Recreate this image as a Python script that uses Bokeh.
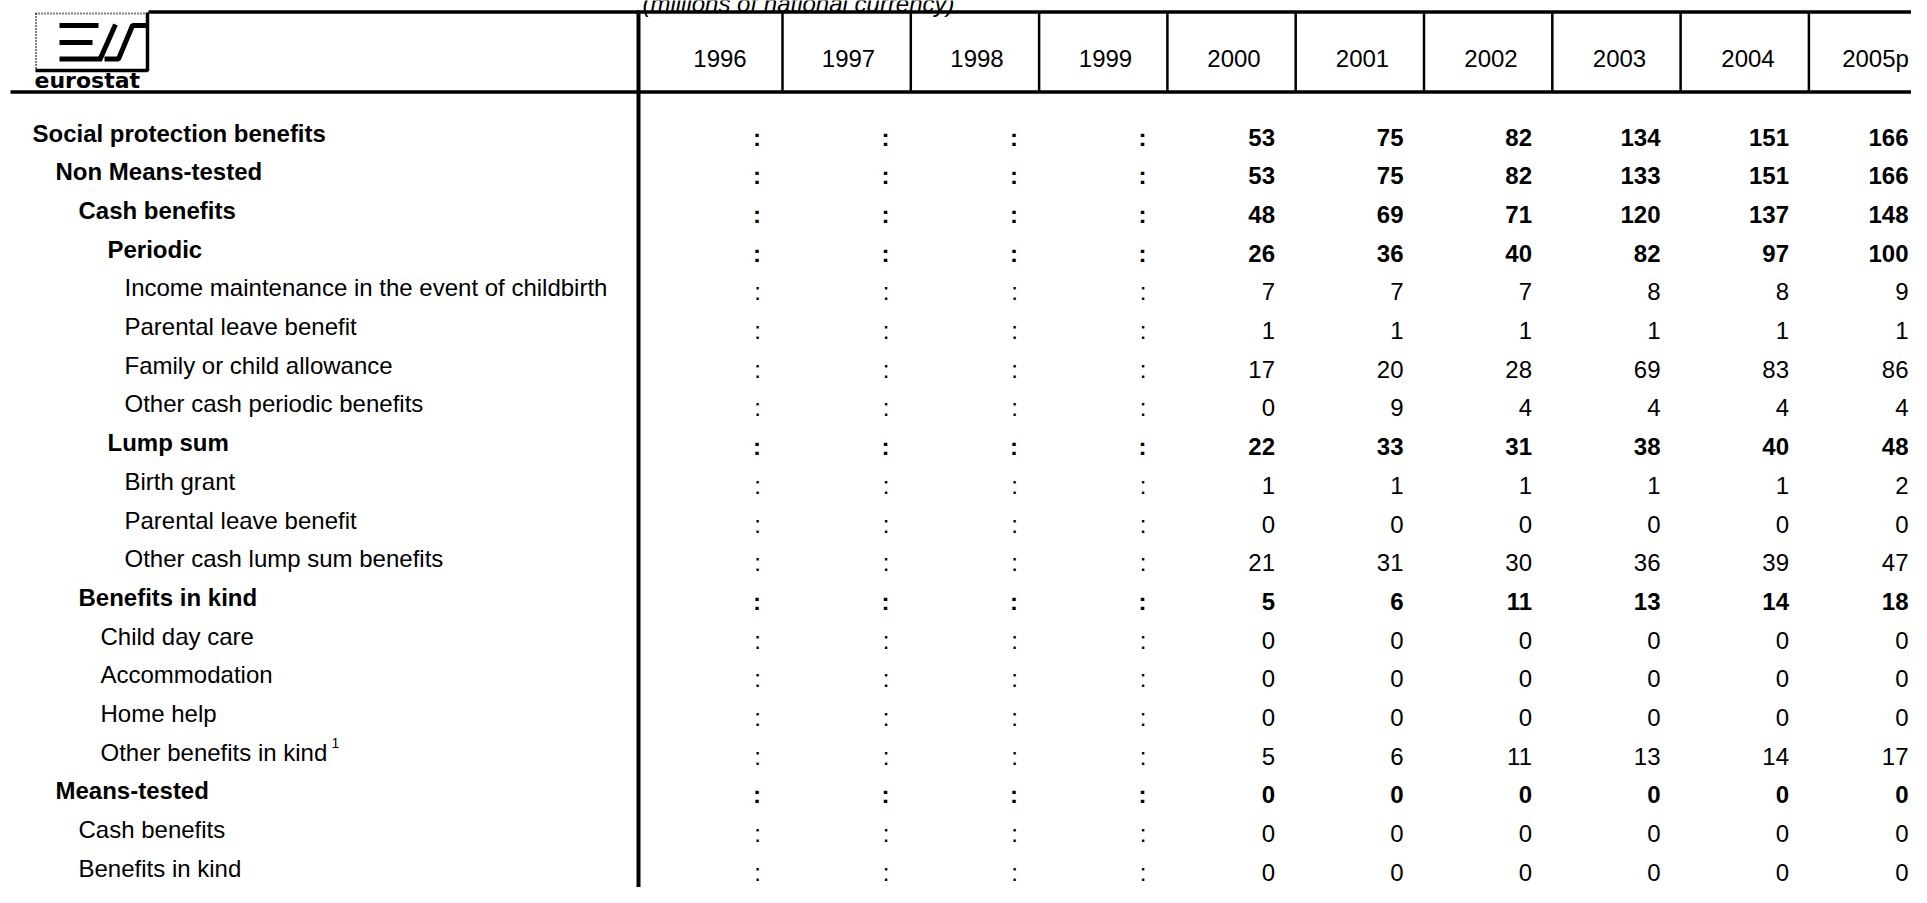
from bokeh.plotting import figure
from bokeh.models import Range1d, ColumnDataSource
from bokeh.core.properties import value
from bokeh.embed import file_html
from bokeh.resources import INLINE

# ---------------- data ----------------
subtitle = "(millions of national currency)"
years = ["1996", "1997", "1998", "1999", "2000", "2001", "2002", "2003", "2004", "2005p"]
labels = [
    "Social protection benefits",
    "Non Means-tested",
    "Cash benefits",
    "Periodic",
    "Income maintenance in the event of childbirth",
    "Parental leave benefit",
    "Family or child allowance",
    "Other cash periodic benefits",
    "Lump sum",
    "Birth grant",
    "Parental leave benefit",
    "Other cash lump sum benefits",
    "Benefits in kind",
    "Child day care",
    "Accommodation",
    "Home help",
    "Other benefits in kind",
    "Means-tested",
    "Cash benefits",
    "Benefits in kind",
]
footnote_mark = "1"
v1996 = [":", ":", ":", ":", ":", ":", ":", ":", ":", ":", ":", ":", ":", ":", ":", ":", ":", ":", ":", ":"]
v1997 = [":", ":", ":", ":", ":", ":", ":", ":", ":", ":", ":", ":", ":", ":", ":", ":", ":", ":", ":", ":"]
v1998 = [":", ":", ":", ":", ":", ":", ":", ":", ":", ":", ":", ":", ":", ":", ":", ":", ":", ":", ":", ":"]
v1999 = [":", ":", ":", ":", ":", ":", ":", ":", ":", ":", ":", ":", ":", ":", ":", ":", ":", ":", ":", ":"]
v2000 = ["53", "53", "48", "26", "7", "1", "17", "0", "22", "1", "0", "21", "5", "0", "0", "0", "5", "0", "0", "0"]
v2001 = ["75", "75", "69", "36", "7", "1", "20", "9", "33", "1", "0", "31", "6", "0", "0", "0", "6", "0", "0", "0"]
v2002 = ["82", "82", "71", "40", "7", "1", "28", "4", "31", "1", "0", "30", "11", "0", "0", "0", "11", "0", "0", "0"]
v2003 = ["134", "133", "120", "82", "8", "1", "69", "4", "38", "1", "0", "36", "13", "0", "0", "0", "13", "0", "0", "0"]
v2004 = ["151", "151", "137", "97", "8", "1", "83", "4", "40", "1", "0", "39", "14", "0", "0", "0", "14", "0", "0", "0"]
v2005p = ["166", "166", "148", "100", "9", "1", "86", "4", "48", "2", "0", "47", "18", "0", "0", "0", "17", "0", "0", "0"]
columns = [v1996, v1997, v1998, v1999, v2000, v2001, v2002, v2003, v2004, v2005p]

# ---------------- layout / style ----------------
indent = [32, 55, 78, 107, 124, 124, 124, 124, 107, 124, 124, 124, 78, 100, 100, 100, 100, 55, 78, 78]
weight = ["bold", "bold", "bold", "bold", "normal", "normal", "normal", "normal", "bold", "normal",
          "normal", "normal", "bold", "normal", "normal", "normal", "normal", "bold", "normal", "normal"]
LAB_Y0, NUM_Y0, ROWH = 132.5, 136.5, 38.7
COLR0, COLW = 760.5, 128.5
LAST_R = 1908.0          # last column pulled in slightly so it stays inside the page
SEP0, SEPW = 782.0, 128.3
HEAD_Y = 57.5
FONT = value("Liberation Sans")
FS = "24px"

W, H = 1911, 887
p = figure(width=W, height=H, x_range=Range1d(0, W), y_range=Range1d(H, 0),
           output_backend="svg", toolbar_location=None, min_border=0)
p.axis.visible = False
p.grid.visible = False
p.outline_line_color = None
p.background_fill_color = "white"
p.border_fill_color = "white"

lab_y = [LAB_Y0 + i * ROWH for i in range(len(labels))]
num_y = [NUM_Y0 + i * ROWH for i in range(len(labels))]
col_r = [COLR0 + j * COLW for j in range(len(years) - 1)] + [LAST_R]

# row labels
p.text(x=indent, y=lab_y, text=labels, text_font=FONT, text_font_size=FS,
       text_font_style=weight, text_align="left", text_baseline="middle", text_color="black")
# footnote superscript
p.text(x=[331], y=[lab_y[16] - 9], text=[footnote_mark], text_font=FONT, text_font_size="14px",
       text_align="left", text_baseline="middle", text_color="black")

# values
xs, ys, ts, ws = [], [], [], []
for j, col in enumerate(columns):
    for i, v in enumerate(col):
        xs.append(col_r[j])
        ys.append(num_y[i])
        ts.append(v)
        ws.append(weight[i])
src = ColumnDataSource(dict(x=xs, y=ys, t=ts, w=ws))
p.text(x="x", y="y", text="t", text_font_style="w", source=src, text_font=FONT,
       text_font_size=FS, text_align="right", text_baseline="middle", text_color="black")

# header
hx = [r - 41 for r in col_r[:-1]] + [LAST_R - 33]
p.text(x=hx, y=[HEAD_Y] * len(years), text=years, text_font=FONT, text_font_size=FS,
       text_align="center", text_baseline="middle", text_color="black")

# subtitle (clipped at the page top in the reference)
p.text(x=[798], y=[3], text=[subtitle], text_font=FONT, text_font_size=FS,
       text_font_style="italic", text_align="center", text_baseline="alphabetic", text_color="black")

# rules
p.segment(x0=[148], y0=[11.5], x1=[1930], y1=[11.5], line_color="black", line_width=3.5)
p.segment(x0=[10], y0=[91.5], x1=[1930], y1=[91.5], line_color="black", line_width=3.5)
p.segment(x0=[638], y0=[10], x1=[638], y1=[900], line_color="black", line_width=4)
sx = [SEP0 + k * SEPW for k in range(len(years) - 1)]
p.segment(x0=sx, y0=[11.5] * len(sx), x1=sx, y1=[91.5] * len(sx), line_color="black", line_width=2.5)

# eurostat logo
p.line(x=[35, 148], y=[13, 13], line_color="black", line_width=2, line_dash="1 2")
p.line(x=[35.5, 35.5], y=[13, 70], line_color="black", line_width=2, line_dash="1 2")
p.line(x=[147, 147, 35], y=[12, 70, 70], line_color="black", line_width=3.5)
p.multi_line(xs=[[59, 98], [59, 92], [59, 101], [99, 115], [104, 118, 132, 147]],
             ys=[[25, 25], [42, 42], [58.5, 58.5], [60, 24], [58.5, 58.5, 25, 25]],
             line_color="black", line_width=5)
p.text(x=[34], y=[80], text=["eurostat"], text_font=value("DejaVu Sans"), text_font_size="22px",
       text_font_style="bold", text_align="left", text_baseline="alphabetic", text_color="black")

open("out.html", "w").write(file_html(p, INLINE))
